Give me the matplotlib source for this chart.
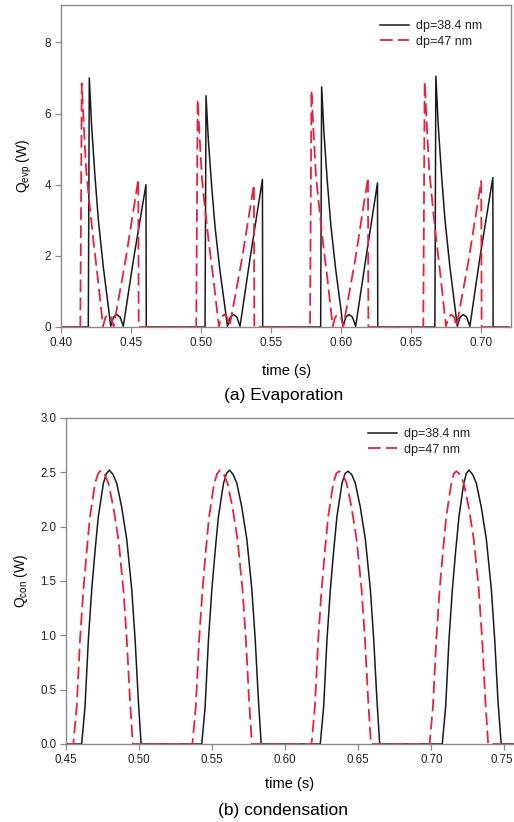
import numpy as np
import matplotlib
matplotlib.use("Agg")
import matplotlib.pyplot as plt
import matplotlib.transforms as mtransforms

plt.rcParams["font.family"] = ["Liberation Sans", "DejaVu Sans"]

# -----------------------------
# Data
# -----------------------------
# (a) evaporation, dp = 38.4 nm
evp_t_384 = [
    0.4000,
    0.4195, 0.4202, 0.4219, 0.4243, 0.4267, 0.4302, 0.4338, 0.4355, 0.4375, 0.4398, 0.4422, 0.4445, 0.4517, 0.4607, 0.4609,
    0.5029, 0.5036, 0.5053, 0.5077, 0.5101, 0.5136, 0.5172, 0.5189, 0.5209, 0.5232, 0.5256, 0.5279, 0.5351, 0.5439, 0.5441,
    0.5855, 0.5862, 0.5879, 0.5903, 0.5927, 0.5962, 0.5998, 0.6015, 0.6035, 0.6058, 0.6082, 0.6105, 0.6177, 0.6261, 0.6263,
    0.6671, 0.6678, 0.6695, 0.6719, 0.6743, 0.6778, 0.6814, 0.6831, 0.6851, 0.6874, 0.6898, 0.6921, 0.6993, 0.7085, 0.7087,
    0.7200,
]
evp_q_384 = [
    0,
    0, 7.00, 5.63, 4.22, 3.00, 1.69, 0.57, 0.02, 0.28, 0.35, 0.28, 0.02, 1.88, 4.00, 0,
    0, 6.50, 5.23, 3.92, 2.79, 1.57, 0.53, 0.02, 0.28, 0.35, 0.28, 0.02, 1.94, 4.15, 0,
    0, 6.75, 5.43, 4.07, 2.89, 1.63, 0.55, 0.02, 0.28, 0.35, 0.28, 0.02, 1.90, 4.05, 0,
    0, 7.05, 5.67, 4.25, 3.02, 1.70, 0.57, 0.02, 0.28, 0.35, 0.28, 0.02, 1.96, 4.20, 0,
    0,
]

# (a) evaporation, dp = 47 nm
evp_t_47 = [
    0.4000,
    0.4138, 0.4148, 0.4165, 0.4180, 0.4205, 0.4232, 0.4262, 0.4284, 0.4300, 0.4318, 0.4338, 0.4358, 0.4376, 0.4462, 0.4552, 0.4555,
    0.4966, 0.4976, 0.4993, 0.5008, 0.5033, 0.5060, 0.5090, 0.5112, 0.5128, 0.5146, 0.5166, 0.5186, 0.5204, 0.5290, 0.5378, 0.5381,
    0.5779, 0.5789, 0.5806, 0.5821, 0.5846, 0.5873, 0.5903, 0.5925, 0.5941, 0.5959, 0.5979, 0.5999, 0.6017, 0.6103, 0.6193, 0.6196,
    0.6588, 0.6598, 0.6615, 0.6630, 0.6655, 0.6682, 0.6712, 0.6734, 0.6750, 0.6768, 0.6788, 0.6808, 0.6826, 0.6912, 0.7002, 0.7005,
    0.7200,
]
evp_q_47 = [
    0,
    0, 6.85, 5.50, 4.40, 3.40, 2.40, 1.40, 0.60, 0.02, 0.28, 0.35, 0.28, 0.02, 1.90, 4.15, 0,
    0, 6.40, 5.14, 4.11, 3.18, 2.24, 1.31, 0.56, 0.02, 0.28, 0.35, 0.28, 0.02, 1.85, 4.00, 0,
    0, 6.65, 5.34, 4.27, 3.30, 2.33, 1.36, 0.58, 0.02, 0.28, 0.35, 0.28, 0.02, 1.92, 4.20, 0,
    0, 6.90, 5.54, 4.43, 3.42, 2.42, 1.41, 0.60, 0.02, 0.28, 0.35, 0.28, 0.02, 1.88, 4.10, 0,
    0,
]

# (b) condensation, dp = 38.4 nm
con_t_384 = [
    0.4500,
    0.4607, 0.4630, 0.4653, 0.4676, 0.4699, 0.4721, 0.4756, 0.4777, 0.4797, 0.4822, 0.4847, 0.4881, 0.4916, 0.4950, 0.4973, 0.4995, 0.5014,
    0.5429, 0.5452, 0.5475, 0.5498, 0.5521, 0.5543, 0.5578, 0.5599, 0.5619, 0.5644, 0.5669, 0.5703, 0.5738, 0.5772, 0.5795, 0.5817, 0.5836,
    0.6240, 0.6263, 0.6286, 0.6309, 0.6332, 0.6354, 0.6389, 0.6410, 0.6430, 0.6455, 0.6480, 0.6514, 0.6549, 0.6583, 0.6606, 0.6628, 0.6647,
    0.7075, 0.7098, 0.7121, 0.7144, 0.7167, 0.7189, 0.7222, 0.7240, 0.7258, 0.7283, 0.7308, 0.7342, 0.7377, 0.7411, 0.7434, 0.7456, 0.7478,
    0.7600,
]
con_q_384 = [
    0,
    0, 0.34, 0.96, 1.42, 1.78, 2.09, 2.40, 2.49, 2.52, 2.48, 2.40, 2.18, 1.88, 1.42, 0.96, 0.40, 0,
    0, 0.34, 0.96, 1.42, 1.78, 2.09, 2.40, 2.49, 2.52, 2.48, 2.40, 2.18, 1.88, 1.42, 0.96, 0.40, 0,
    0, 0.34, 0.96, 1.42, 1.78, 2.09, 2.40, 2.49, 2.51, 2.48, 2.40, 2.18, 1.88, 1.42, 0.96, 0.40, 0,
    0, 0.34, 0.96, 1.42, 1.78, 2.09, 2.40, 2.49, 2.52, 2.48, 2.40, 2.18, 1.88, 1.42, 0.96, 0.40, 0,
    0,
]

# (b) condensation, dp = 47 nm
con_t_47 = [
    0.4500,
    0.4550, 0.4573, 0.4596, 0.4619, 0.4642, 0.4664, 0.4699, 0.4720, 0.4740, 0.4765, 0.4790, 0.4824, 0.4859, 0.4893, 0.4916, 0.4938, 0.4957,
    0.5365, 0.5388, 0.5411, 0.5434, 0.5457, 0.5479, 0.5514, 0.5535, 0.5555, 0.5580, 0.5605, 0.5639, 0.5674, 0.5708, 0.5731, 0.5753, 0.5772,
    0.6180, 0.6203, 0.6226, 0.6249, 0.6272, 0.6294, 0.6329, 0.6350, 0.6370, 0.6395, 0.6420, 0.6454, 0.6489, 0.6523, 0.6546, 0.6568, 0.6587,
    0.6988, 0.7011, 0.7034, 0.7057, 0.7080, 0.7102, 0.7137, 0.7155, 0.7172, 0.7197, 0.7222, 0.7256, 0.7291, 0.7325, 0.7348, 0.7370, 0.7389,
    0.7600,
]
con_q_47 = [
    0,
    0, 0.34, 0.96, 1.42, 1.78, 2.09, 2.40, 2.49, 2.52, 2.48, 2.40, 2.18, 1.88, 1.42, 0.96, 0.40, 0,
    0, 0.34, 0.96, 1.42, 1.78, 2.09, 2.40, 2.49, 2.52, 2.48, 2.40, 2.18, 1.88, 1.42, 0.96, 0.40, 0,
    0, 0.34, 0.96, 1.42, 1.78, 2.09, 2.40, 2.49, 2.51, 2.48, 2.40, 2.18, 1.88, 1.42, 0.96, 0.40, 0,
    0, 0.34, 0.96, 1.42, 1.78, 2.09, 2.40, 2.49, 2.51, 2.48, 2.40, 2.18, 1.88, 1.42, 0.96, 0.40, 0,
    0,
]

labels = ["dp=38.4 nm", "dp=47 nm"]

evp_xticks = [0.40, 0.45, 0.50, 0.55, 0.60, 0.65, 0.70]
evp_yticks = [0, 2, 4, 6, 8]
con_xticks = [0.45, 0.50, 0.55, 0.60, 0.65, 0.70, 0.75]
con_yticks = [0.0, 0.5, 1.0, 1.5, 2.0, 2.5, 3.0]

# -----------------------------
# Style
# -----------------------------
BLACK = "#1a1a1a"
RED = "#e8213f"
SPINE = "#8a8a8a"
W, H = 514, 822


def style_axes(ax, size=8.5):
    for sp in ax.spines.values():
        sp.set_color(SPINE)
        sp.set_linewidth(1.0)
    ax.tick_params(direction="out", length=4, width=0.9, color=SPINE,
                   labelsize=size, labelcolor="#222222", pad=3)
    ax.tick_params(top=False, right=False)


def draw_panel(ax, t1, q1, t2, q2, leg_xy):
    ax.plot(t1, q1, color=BLACK, lw=1.1, label=labels[0])
    ax.plot(t2, q2, color=RED, lw=1.3, dashes=(7, 3), label=labels[1])
    leg = ax.legend(loc="upper left", frameon=False, fontsize=9,
                    bbox_to_anchor=(leg_xy[0] / W, 1 - leg_xy[1] / H),
                    bbox_transform=fig.transFigure,
                    handlelength=2.3, handletextpad=0.55, labelspacing=0.3,
                    borderpad=0, borderaxespad=0)
    for txt in leg.get_texts():
        txt.set_color("#222222")


fig = plt.figure(figsize=(W / 100, H / 100), dpi=100)

# -----------------------------
# (a) Evaporation
# -----------------------------
ax1 = fig.add_axes([0.1187, 0.6022, 0.8755, 0.3917])
draw_panel(ax1, evp_t_384, evp_q_384, evp_t_47, evp_q_47, (380, 20))
ax1.set_xlim(0.40, 0.7215)
ax1.set_ylim(0, 9.05)
ax1.set_xticks(evp_xticks)
ax1.set_xticklabels([f"{v:.2f}" for v in evp_xticks])
ax1.set_yticks(evp_yticks)
style_axes(ax1)
ax1.set_ylabel(r"Q$_{\mathregular{evp}}$ (W)", fontsize=10, labelpad=8)
fig.text(0.557, 0.549, "time (s)", ha="center", va="center", fontsize=10.5)
fig.text(0.551, 0.519, "(a) Evaporation", ha="center", va="center", fontsize=12.5)

# -----------------------------
# (b) Condensation
# -----------------------------
ax2 = fig.add_axes([0.1284, 0.0949, 0.8813, 0.3966])
draw_panel(ax2, con_t_384, con_q_384, con_t_47, con_q_47, (368, 428))
ax2.set_xlim(0.45, 0.760)
ax2.set_ylim(0, 3.0)
ax2.set_xticks(con_xticks)
ax2.set_xticklabels([f"{v:.2f}" for v in con_xticks])
ax2.set_yticks(con_yticks)
ax2.set_yticklabels([f"{v:.1f}" for v in con_yticks])
style_axes(ax2, size=8.3)
# the last tick label sits at the figure edge: nudge it inward a little
last = ax2.get_xticklabels()[-1]
last.set_transform(last.get_transform() +
                   mtransforms.ScaledTranslation(-3 / 100, 0, fig.dpi_scale_trans))
ax2.set_ylabel(r"Q$_{\mathregular{con}}$ (W)", fontsize=10, labelpad=7)
fig.text(0.564, 0.046, "time (s)", ha="center", va="center", fontsize=10.5)
fig.text(0.551, 0.014, "(b) condensation", ha="center", va="center", fontsize=12.5)

fig.savefig("out.png", dpi=100, facecolor="white")
